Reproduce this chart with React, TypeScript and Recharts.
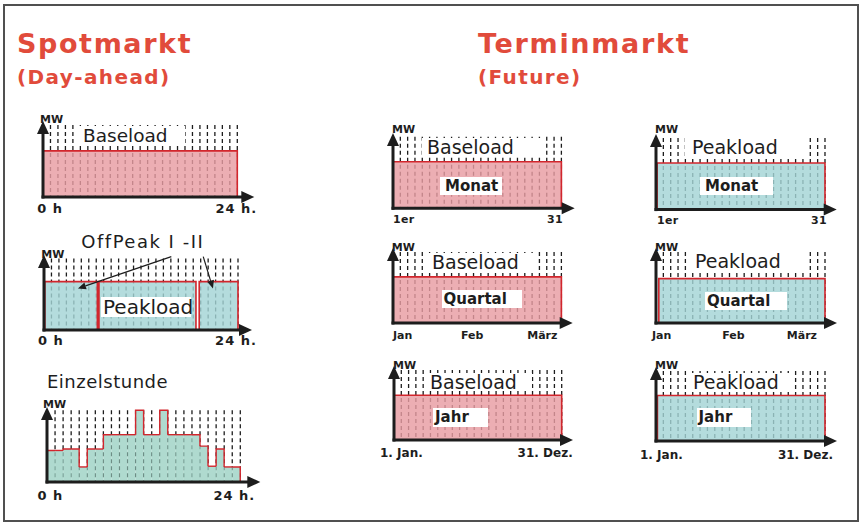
import React from 'react';
import { Area, Bar, CartesianGrid, ComposedChart, ReferenceLine, XAxis, YAxis } from 'recharts';

const FONT = '"DejaVu Sans", Verdana, sans-serif';
const INK = '#1d1d1d';
const RED = '#d2262d';
const PINK = '#e89ca2';
const CYAN = '#a4d4d5';
const MINT = '#9dd2c4';
const TITLE_RED = '#e14b3b';
const Y_TOP = 100;

// ---------- data ----------
const spotTickValues = [0, 24];
const spotTickLabels = ['0 h', '24 h.'];

const baseloadDay = [{ from: 0, to: 24, mw: 64 }];
const offPeakPeakDay = [
  { from: 0.1, to: 6.6, mw: 67.5 }, // OffPeak I
  { from: 6.8, to: 18.8, mw: 67.5 }, // Peakload
  { from: 19.2, to: 24, mw: 67.5 }, // OffPeak II
];
const einzelstundeMW = [44, 44, 46, 46, 21, 46, 46, 66, 66, 66, 66, 100, 66, 66, 100, 66, 66, 66, 66, 50, 22, 46, 21, 21];

// OffPeak I / II pointers: from label (hour, MW) to block (hour, MW)
const offPeakPointers = [
  [{ x: 15.75, y: 102.4 }, { x: 4.2, y: 58 }],
  [{ x: 19.7, y: 102.4 }, { x: 20.9, y: 58 }],
];

const monatTickValues = [0, 31];
const monatTickLabels = ['1er', '31'];
const quartalTickValues = [0, 1.5, 3];
const quartalTickLabels = ['Jan', 'Feb', 'März'];
const jahrTickValues = [0, 12];
const jahrTickLabels = ['1. Jan.', '31. Dez.'];

const baseMonat = [{ from: 0, to: 31, mw: 65 }];
const peakMonat = [{ from: 0.2, to: 31, mw: 65 }];
const baseQuartal = [{ from: 0, to: 3, mw: 65 }];
const peakQuartal = [{ from: 0.05, to: 3, mw: 62.5 }];
const baseJahr = [{ from: 0, to: 12, mw: 64 }];
const peakJahr = [{ from: 0.1, to: 12, mw: 65 }];

// ---------- layout (pixels) ----------
type Frame = { ox: number; oy: number; w: number; h: number; ax: number; ay: number; tm: number };
const F: Record<string, Frame> = {
  spotBase: { ox: 42.7, oy: 197, w: 194.3, h: 72, ax: 17, ay: 4, tm: 6 },
  spotPeak: { ox: 44, oy: 330.3, w: 194, h: 71.6, ax: 14, ay: 3.4, tm: 5 },
  spotHour: { ox: 46.7, oy: 481.7, w: 193.3, h: 71.7, ax: 20, ay: 3.3, tm: 8 },
  t1: { ox: 393.3, oy: 208.3, w: 168.4, h: 71.6, ax: 13.3, ay: 3.7, tm: 6.5 },
  t2: { ox: 656, oy: 209.3, w: 169, h: 71.6, ax: 11.7, ay: 4, tm: 6 },
  t3: { ox: 393.3, oy: 322.7, w: 168.4, h: 71, ax: 11.3, ay: 4, tm: 7 },
  t4: { ox: 656, oy: 322.7, w: 169, h: 71, ax: 12, ay: 4, tm: 7 },
  t5: { ox: 394, oy: 440, w: 167.7, h: 70, ax: 11.3, ay: 4, tm: 8 },
  t6: { ox: 656, oy: 441, w: 169, h: 70, ax: 12, ay: 4, tm: 8.5 },
};

type TickCfg = { values: number[]; labels: string[]; anchors: string[]; dx: number[]; size: number; ls: number };

const outline = (blocks: { from: number; to: number; mw: number }[]) =>
  blocks.flatMap((b) => [
    { x: b.from, mw: 0 },
    { x: b.from, mw: b.mw },
    { x: b.to, mw: b.mw },
    { x: b.to, mw: 0 },
  ]);

const hourTable = einzelstundeMW.map((mw, i) => ({
  x: i + 0.5,
  mw,
  prev: i > 0 ? einzelstundeMW[i - 1] : 0,
  next: i < einzelstundeMW.length - 1 ? einzelstundeMW[i + 1] : 0,
}));

const arrowShape = (head: number, half: number, cap: 'square' | 'butt') => (p: any) => {
  const x1 = Number(p.x1), y1 = Number(p.y1), x2 = Number(p.x2), y2 = Number(p.y2);
  const dx = x2 - x1, dy = y2 - y1;
  const len = Math.hypot(dx, dy) || 1;
  const ux = dx / len, uy = dy / len;
  const bx = x2 - ux * head, by = y2 - uy * head;
  const px = -uy * half, py = ux * half;
  return (
    <g>
      <line x1={x1} y1={y1} x2={bx} y2={by} stroke={p.stroke} strokeWidth={p.strokeWidth} strokeLinecap={cap} />
      <polygon points={`${x2},${y2} ${bx + px},${by + py} ${bx - px},${by - py}`} fill={p.stroke} />
    </g>
  );
};
const axisArrow = arrowShape(13, 6, 'square');
const pointerArrow = arrowShape(8, 3.5, 'butt');

const tickRenderer = (cfg: TickCfg) => (props: any) => {
  const { x, y, payload } = props;
  const i = cfg.values.indexOf(payload.value);
  if (i < 0) return <g />;
  return (
    <text
      x={x + cfg.dx[i]}
      y={y}
      dy="0.78em"
      textAnchor={cfg.anchors[i]}
      fontFamily={FONT}
      fontWeight="bold"
      fontSize={cfg.size}
      letterSpacing={cfg.ls}
      fill={INK}
    >
      {cfg.labels[i]}
    </text>
  );
};

const HourBar = (p: any) => {
  const { x, y, width, height, payload } = p;
  if (!height) return <g />;
  const unit = height / payload.mw;
  const bottom = y + height;
  const leftTop = payload.prev < payload.mw ? bottom - payload.prev * unit : y;
  const rightTop = payload.next < payload.mw ? bottom - payload.next * unit : y;
  return (
    <g>
      <rect x={x} y={y} width={width} height={height} fill={MINT} fillOpacity={0.82} />
      <path
        d={`M${x},${leftTop} L${x},${y} L${x + width},${y} L${x + width},${rightTop}`}
        fill="none"
        stroke={RED}
        strokeWidth={1.4}
      />
    </g>
  );
};

function MiniChart({
  f,
  xEnd,
  data,
  tick,
  gridCount,
  children,
}: {
  f: Frame;
  xEnd: number;
  data: any[];
  tick: TickCfg;
  gridCount: number;
  children: React.ReactNode;
}) {
  const padL = 24;
  const padR = f.ax + 8;
  const padT = f.ay + 10;
  const axisH = 24;
  const width = padL + f.w + padR;
  const height = padT + f.h + axisH;
  const xArrow = (xEnd * (f.w + f.ax)) / f.w;
  const yArrow = (Y_TOP * (f.h + f.ay)) / f.h;
  const grid = Array.from({ length: gridCount }, (_, i) => ((i + 1) * xEnd) / gridCount);
  return (
    <div style={{ position: 'absolute', left: f.ox - padL, top: f.oy - f.h - padT }}>
      <ComposedChart
        width={width}
        height={height}
        data={data}
        margin={{ top: padT, right: padR, bottom: 0, left: padL }}
        barCategoryGap={0}
        barGap={0}
      >
        <CartesianGrid horizontal={false} verticalValues={grid} stroke={INK} strokeWidth={1.3} strokeDasharray="4 3" />
        <XAxis
          type="number"
          dataKey="x"
          domain={[0, xEnd]}
          ticks={tick.values}
          interval={0}
          axisLine={false}
          tickLine={false}
          tickSize={0}
          tickMargin={f.tm}
          height={axisH}
          tick={tickRenderer(tick)}
        />
        <YAxis type="number" domain={[0, Y_TOP]} hide />
        {children}
        <ReferenceLine
          segment={[{ x: 0, y: 0 }, { x: xArrow, y: 0 }]}
          ifOverflow="visible"
          stroke={INK}
          strokeWidth={3}
          shape={axisArrow}
        />
        <ReferenceLine
          segment={[{ x: 0, y: 0 }, { x: 0, y: yArrow }]}
          ifOverflow="visible"
          stroke={INK}
          strokeWidth={3}
          shape={axisArrow}
        />
      </ComposedChart>
    </div>
  );
}

const blockArea = (fill: string) => (
  <Area
    type="linear"
    dataKey="mw"
    stroke={RED}
    strokeWidth={1.6}
    fill={fill}
    fillOpacity={0.82}
    dot={false}
    activeDot={false}
    isAnimationActive={false}
  />
);

const spotTick = (dx: number[]): TickCfg => ({
  values: spotTickValues,
  labels: spotTickLabels,
  anchors: ['start', 'middle'],
  dx,
  size: 13,
  ls: 1,
});

function Txt({
  x,
  y,
  size,
  text,
  bold,
  color = INK,
  ls = 0,
}: {
  x: number;
  y: number;
  size: number;
  text: string;
  bold?: boolean;
  color?: string;
  ls?: number;
}) {
  return (
    <div
      style={{
        position: 'absolute',
        left: x,
        top: y,
        fontSize: size,
        lineHeight: `${size}px`,
        fontWeight: bold ? 'bold' : 'normal',
        color,
        letterSpacing: ls,
        whiteSpace: 'nowrap',
      }}
    >
      {text}
    </div>
  );
}

function Boxed({
  x,
  y,
  w,
  h,
  pad,
  size,
  text,
  bold,
}: {
  x: number;
  y: number;
  w: number;
  h: number;
  pad: number;
  size: number;
  text: string;
  bold?: boolean;
}) {
  return (
    <div
      style={{
        position: 'absolute',
        left: x,
        top: y,
        width: w,
        height: h,
        background: '#fff',
        boxSizing: 'border-box',
        paddingLeft: pad,
        fontSize: size,
        lineHeight: `${h}px`,
        fontWeight: bold ? 'bold' : 'normal',
        color: INK,
        whiteSpace: 'nowrap',
      }}
    >
      {text}
    </div>
  );
}

export default function App() {
  return (
    <div
      style={{
        position: 'absolute',
        left: 0,
        top: 0,
        width: 864,
        height: 529,
        background: '#fff',
        fontFamily: FONT,
        overflow: 'hidden',
      }}
    >
      <div
        style={{
          position: 'absolute',
          left: 3,
          top: 4,
          width: 856,
          height: 518,
          border: '2px solid #505050',
          boxSizing: 'border-box',
        }}
      />

      {/* Spotmarkt */}
      <MiniChart f={F.spotBase} xEnd={24} data={outline(baseloadDay)} tick={spotTick([-5.7, -1])} gridCount={26}>
        {blockArea(PINK)}
      </MiniChart>

      <MiniChart f={F.spotPeak} xEnd={24} data={outline(offPeakPeakDay)} tick={spotTick([-6, -2])} gridCount={26}>
        {blockArea(CYAN)}
        {offPeakPointers.map((seg, i) => (
          <ReferenceLine
            key={i}
            segment={seg}
            ifOverflow="visible"
            stroke={INK}
            strokeWidth={1.2}
            shape={pointerArrow}
          />
        ))}
      </MiniChart>

      <MiniChart f={F.spotHour} xEnd={24} data={hourTable} tick={spotTick([-9.5, -6])} gridCount={24}>
        <Bar dataKey="mw" shape={HourBar} isAnimationActive={false} />
      </MiniChart>

      {/* Terminmarkt */}
      <MiniChart
        f={F.t1}
        xEnd={31}
        data={outline(baseMonat)}
        tick={{ values: monatTickValues, labels: monatTickLabels, anchors: ['start', 'end'], dx: [0, 1.5], size: 11, ls: 0.3 }}
        gridCount={23}
      >
        {blockArea(PINK)}
      </MiniChart>
      <MiniChart
        f={F.t2}
        xEnd={31}
        data={outline(peakMonat)}
        tick={{ values: monatTickValues, labels: monatTickLabels, anchors: ['start', 'end'], dx: [1, 2], size: 11, ls: 0.3 }}
        gridCount={23}
      >
        {blockArea(CYAN)}
      </MiniChart>
      <MiniChart
        f={F.t3}
        xEnd={3}
        data={outline(baseQuartal)}
        tick={{
          values: quartalTickValues,
          labels: quartalTickLabels,
          anchors: ['start', 'middle', 'end'],
          dx: [0, -5, -4],
          size: 11,
          ls: 0,
        }}
        gridCount={23}
      >
        {blockArea(PINK)}
      </MiniChart>
      <MiniChart
        f={F.t4}
        xEnd={3}
        data={outline(peakQuartal)}
        tick={{
          values: quartalTickValues,
          labels: quartalTickLabels,
          anchors: ['start', 'middle', 'end'],
          dx: [-4, -7, -8],
          size: 11,
          ls: 0,
        }}
        gridCount={23}
      >
        {blockArea(CYAN)}
      </MiniChart>
      <MiniChart
        f={F.t5}
        xEnd={12}
        data={outline(baseJahr)}
        tick={{ values: jahrTickValues, labels: jahrTickLabels, anchors: ['start', 'end'], dx: [-14, 11], size: 12, ls: 0 }}
        gridCount={23}
      >
        {blockArea(PINK)}
      </MiniChart>
      <MiniChart
        f={F.t6}
        xEnd={12}
        data={outline(peakJahr)}
        tick={{ values: jahrTickValues, labels: jahrTickLabels, anchors: ['start', 'end'], dx: [-16, 8], size: 12, ls: 0 }}
        gridCount={23}
      >
        {blockArea(CYAN)}
      </MiniChart>

      {/* titles */}
      <Txt x={17} y={30} size={27} bold color={TITLE_RED} ls={1.6} text="Spotmarkt" />
      <Txt x={17} y={66.5} size={20} bold color={TITLE_RED} ls={1.4} text="(Day-ahead)" />
      <Txt x={478} y={30} size={27} bold color={TITLE_RED} ls={1.7} text="Terminmarkt" />
      <Txt x={478} y={66.5} size={20} bold color={TITLE_RED} ls={1.4} text="(Future)" />

      {/* spot labels */}
      <Boxed x={77} y={125.8} w={108} h={19} pad={6} size={18.5} text="Baseload" />
      <Txt x={81.3} y={233.2} size={18} ls={1.5} text="OffPeak I -II" />
      <Boxed x={101} y={296.8} w={90} h={20} pad={2} size={20} text="Peakload" />
      <Txt x={47} y={373.1} size={18} ls={0.5} text="Einzelstunde" />

      {/* termin labels */}
      <Boxed x={422} y={137.7} w={121} h={18} pad={5} size={19} text="Baseload" />
      <Boxed x={685} y={137.7} w={120} h={18} pad={7} size={19} text="Peakload" />
      <Boxed x={425} y={252.7} w={113} h={18} pad={7} size={19} text="Baseload" />
      <Boxed x={690} y={252.4} w={115} h={18} pad={5} size={19} text="Peakload" />
      <Boxed x={425} y={372.7} w={107} h={18} pad={5} size={19} text="Baseload" />
      <Boxed x={688} y={372.7} w={104} h={18} pad={5} size={19} text="Peakload" />

      <Boxed x={440} y={177} w={62} h={18} pad={5} size={15} bold text="Monat" />
      <Boxed x={700} y={177} w={73} h={18} pad={5} size={15} bold text="Monat" />
      <Boxed x={441.5} y={290} w={80} h={18} pad={2} size={15} bold text="Quartal" />
      <Boxed x={705} y={292} w={82} h={18} pad={2} size={15} bold text="Quartal" />
      <Boxed x={433} y={408} w={55} h={19} pad={2} size={15} bold text="Jahr" />
      <Boxed x={696.5} y={408} w={54} h={19} pad={2} size={15} bold text="Jahr" />

      {/* MW labels */}
      <Txt x={40} y={113.7} size={11} bold text="MW" />
      <Txt x={41.3} y={249} size={11} bold text="MW" />
      <Txt x={43} y={398.7} size={11} bold text="MW" />
      <Txt x={392} y={123.7} size={11} bold text="MW" />
      <Txt x={655} y={123.7} size={11} bold text="MW" />
      <Txt x={391.7} y={242} size={11} bold text="MW" />
      <Txt x={655} y={242} size={11} bold text="MW" />
      <Txt x={393} y={360.4} size={11} bold text="MW" />
      <Txt x={655} y={360.4} size={11} bold text="MW" />
    </div>
  );
}
